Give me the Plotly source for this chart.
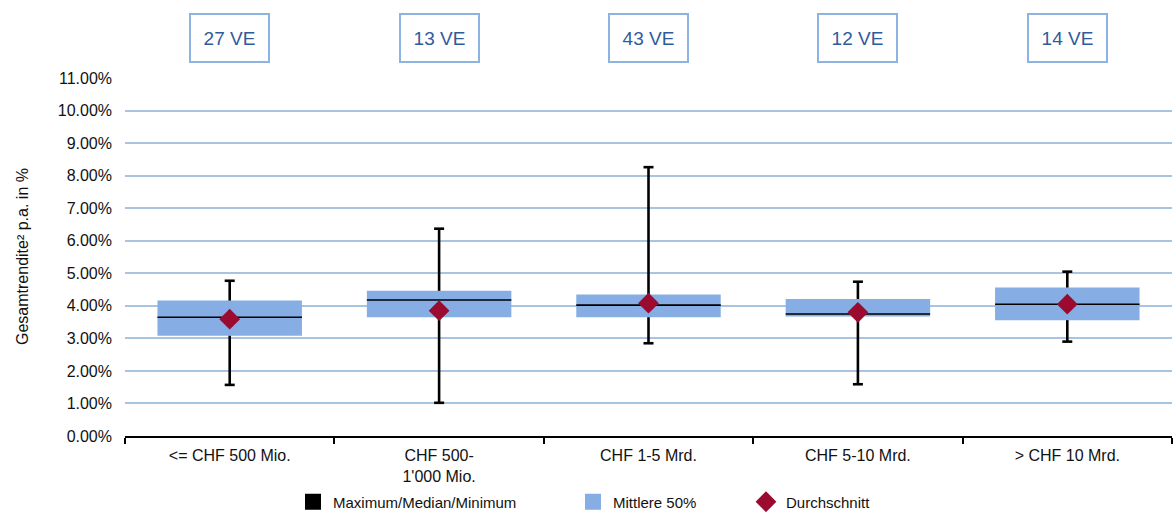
import plotly.graph_objects as go

categories = ["<= CHF 500 Mio.", "CHF 500-<br>1'000 Mio.", "CHF 1-5 Mrd.", "CHF 5-10 Mrd.", "> CHF 10 Mrd."]
counts = ["27 VE", "13 VE", "43 VE", "12 VE", "14 VE"]
maximum = [4.77, 6.37, 8.26, 4.74, 5.05]
q3 = [4.16, 4.46, 4.35, 4.21, 4.56]
median = [3.65, 4.18, 4.02, 3.75, 4.05]
q1 = [3.08, 3.65, 3.65, 3.67, 3.56]
minimum = [1.57, 1.02, 2.85, 1.59, 2.90]
mean = [3.59, 3.85, 4.08, 3.80, 4.05]

W, H = 1175, 512
ML, MR, MT, MB = 125, 3, 78, 76
BOX_W = 0.69
plot_w = W - ML - MR
plot_h = H - MT - MB
box_px = BOX_W * plot_w / len(categories)
LINE_SYMBOL_SCALE = 1.4  # plotly draws line-ew markers 1.4x their size

BOX_COLOR = "#86AEE4"
MEAN_COLOR = "#9B0B30"
GRID = "#A9C3E3"
FONT = "Arial, Liberation Sans, sans-serif"

fig = go.Figure()

# boxes (interquartile range)
fig.add_trace(go.Bar(
    x=categories, y=[a - b for a, b in zip(q3, q1)], base=q1, width=BOX_W,
    marker=dict(color=BOX_COLOR, line=dict(width=0)),
    showlegend=False, hoverinfo="skip"))

# whiskers (outside the box)
wx, wy = [], []
for c, lo, b, t, hi in zip(categories, minimum, q1, q3, maximum):
    wx += [c, c, None, c, c, None]
    wy += [lo, b, None, t, hi, None]
fig.add_trace(go.Scatter(x=wx, y=wy, mode="lines", line=dict(color="black", width=2.6),
                         showlegend=False, hoverinfo="skip"))
# caps
fig.add_trace(go.Scatter(x=categories + categories, y=maximum + minimum, mode="markers",
                         marker=dict(symbol="line-ew", size=10 / LINE_SYMBOL_SCALE,
                                     line=dict(color="black", width=2.6)),
                         showlegend=False, hoverinfo="skip"))
# medians
fig.add_trace(go.Scatter(x=categories, y=median, mode="markers",
                         marker=dict(symbol="line-ew", size=box_px / LINE_SYMBOL_SCALE,
                                     line=dict(color="black", width=1.6)),
                         showlegend=False, hoverinfo="skip"))
# means
fig.add_trace(go.Scatter(x=categories, y=mean, mode="markers",
                         marker=dict(symbol="diamond", size=16, color=MEAN_COLOR),
                         showlegend=False))

# legend entries
fig.add_trace(go.Scatter(x=[None], y=[None], name="Maximum/Median/Minimum", mode="markers",
                         marker=dict(symbol="square", size=16, color="black"), legend="legend"))
fig.add_trace(go.Scatter(x=[None], y=[None], name="Mittlere 50%", mode="markers",
                         marker=dict(symbol="square", size=16, color=BOX_COLOR), legend="legend2"))
fig.add_trace(go.Scatter(x=[None], y=[None], name="Durchschnitt", mode="markers",
                         marker=dict(symbol="diamond", size=16, color=MEAN_COLOR), legend="legend3"))

yleg = (H - MB - 502) / plot_h
leg_common = dict(orientation="h", xref="paper", yref="paper", yanchor="middle", y=yleg,
                  itemsizing="trace",
                  font=dict(size=15, color="#111", family=FONT), bgcolor="rgba(0,0,0,0)")

# count boxes on top
for c, t in zip(categories, counts):
    fig.add_annotation(x=c, y=(H - MB - 38) / plot_h, xref="x", yref="paper",
                       text=t, showarrow=False, width=77, height=46, borderwidth=2, borderpad=0,
                       bordercolor="#8DB3E2", bgcolor="white",
                       font=dict(size=19, color="#2F5A9E", family=FONT), yanchor="middle")

fig.add_annotation(x=(22 - ML) / plot_w, y=0.5, xref="paper", yref="paper",
                   xanchor="center", yanchor="middle",
                   text="Gesamtrendite² p.a. in %", textangle=-90, showarrow=False,
                   font=dict(size=16, color="#111", family=FONT))

fig.update_layout(
    width=W, height=H, margin=dict(l=ML, r=MR, t=MT, b=MB, autoexpand=False),
    plot_bgcolor="white", paper_bgcolor="white", barmode="overlay",
    font=dict(family=FONT, color="#111"),
    legend=dict(leg_common, x=(293 - ML) / plot_w),
    legend2=dict(leg_common, x=(573 - ML) / plot_w),
    legend3=dict(leg_common, x=(746 - ML) / plot_w),
    xaxis=dict(type="category", showline=True, linecolor="black", linewidth=2,
               ticks="outside", tickson="boundaries", ticklen=6, tickwidth=1.5, tickcolor="black",
               tickfont=dict(size=16), showgrid=False, range=[-0.5, 4.5], ticklabelstandoff=4),
    yaxis=dict(range=[0, 11], dtick=1, tickformat=".2f", ticksuffix="%", showgrid=True,
               gridcolor=GRID, gridwidth=1.5, zeroline=False, showline=False,
               tickfont=dict(size=16), ticklabelstandoff=12),
)

fig.write_html("out.html", config={"displayModeBar": False},
               post_script="document.body.style.margin='0';")
